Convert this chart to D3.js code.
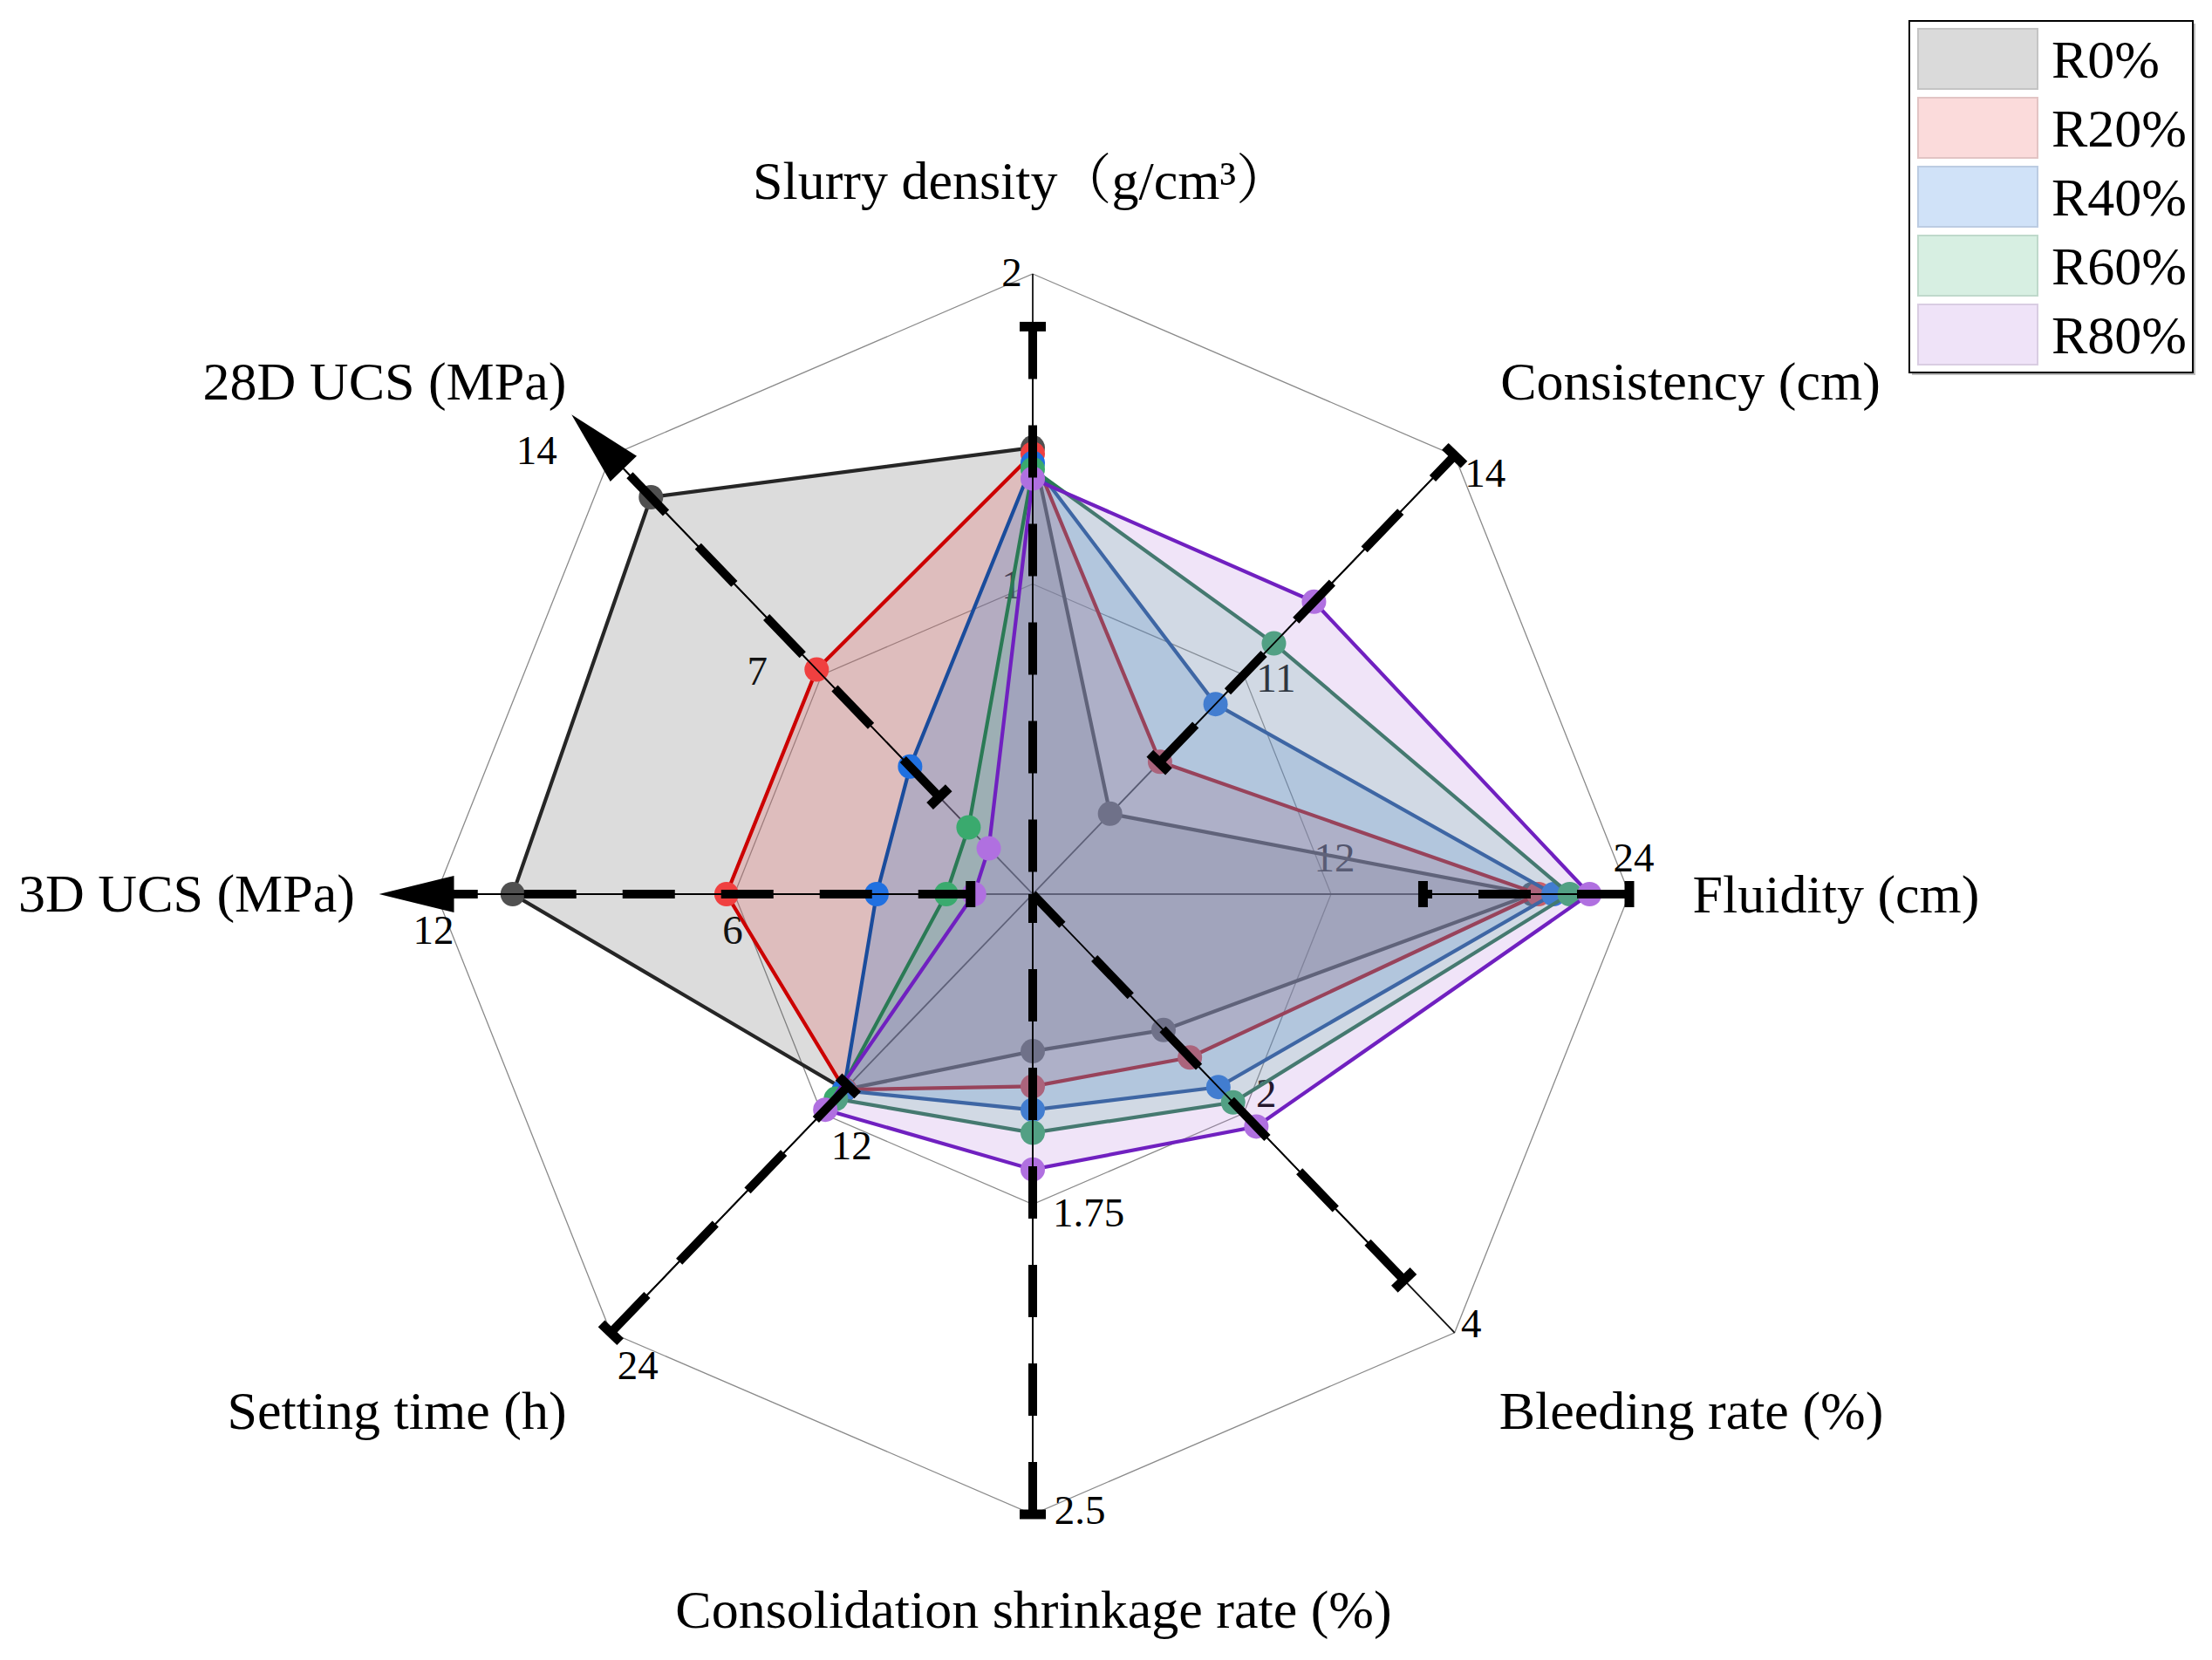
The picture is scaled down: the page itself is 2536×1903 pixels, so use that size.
<!DOCTYPE html>
<html><head><meta charset="utf-8">
<script src="https://cdn.jsdelivr.net/npm/d3@7/dist/d3.min.js"></script>
<style>body{margin:0;background:#fff;} svg{display:block;}</style>
</head><body>
<svg id="chart" width="2536" height="1903"></svg>
<script>
// ---------------- data ----------------
const categories = ["Slurry density（g/cm³）", "Consistency (cm)", "Fluidity (cm)", "Bleeding rate (%)",
  "Consolidation shrinkage rate (%)", "Setting time (h)", "3D UCS (MPa)", "28D UCS (MPa)"];
const axisMin = [0, 8, 0, 0, 1, 0, 0, 0];
const axisMax = [2, 14, 24, 4, 2.5, 24, 12, 14];
const midTicks = [1, 11, 12, 2, 1.75, 12, 6, 7];
const midTickLabels = ["1", "11", "12", "2", "1.75", "12", "6", "7"];
const maxTickLabels = ["2", "14", "24", "4", "2.5", "24", "12", "14"];
const seriesNames = ["R0%", "R20%", "R40%", "R60%", "R80%"];
const valuesR0  = [1.44, 9.10, 20.10, 1.24, 1.380, 10.70, 10.46, 12.67];
const valuesR20 = [1.42, 9.81, 20.35, 1.49, 1.465, 10.70, 6.16, 7.17];
const valuesR40 = [1.39, 10.60, 20.95, 1.76, 1.522, 10.75, 3.14, 4.07];
const valuesR60 = [1.37, 11.43, 21.60, 1.90, 1.577, 11.20, 1.74, 2.13];
const valuesR80 = [1.34, 12.00, 22.40, 2.12, 1.666, 11.80, 1.18, 1.46];
// black dashed range segments drawn on each axis
const rangeStart = [0, 9.8, 15.7, 0, 1, 10.5, 1.25, 3.1];
const rangeEnd   = [1.83, 14, 24, 3.52, 2.5, 24, 12, 14];

// ---------------- style ----------------
const seriesValues = [valuesR0, valuesR20, valuesR40, valuesR60, valuesR80];
const lineColors   = ["#262626", "#cc0000", "#1a4c9c", "#2a7a55", "#7020c0"];
const markerColors = ["#505050", "#f04040", "#2070e0", "#3aaa6e", "#b070e0"];
const fillColors   = ["rgb(90,90,90)", "rgb(230,120,120)", "rgb(14,107,208)", "rgb(67,192,130)", "rgb(180,120,220)"];
const fillOpacity  = [0.212, 0.3, 0.2, 0.2, 0.2];
const legendFill   = ["#dadada", "#fbdbdb", "#d0e2f8", "#d7efe2", "#efe3f8"];
const legendStroke = ["#c4c4c4", "#e2c4c4", "#bccce2", "#bfd9cb", "#d9cde2"];
const dashFromOuter = [true, false, true, true, true, true, false, false];
const startCap = ["none", "T", "T", "none", "none", "T", "T", "T"];
const endCap   = ["T", "T", "T", "T", "T", "T", "arrow", "arrow"];
const midOffsets   = [[-24, 0], [37, 3], [4, -42], [26, -23], [64, 9], [34, 37], [-2, 41], [-74, -5]];
const outerOffsets = [[-24, -2], [35, 20], [5, -42], [19, -11], [54, -5], [31, 37], [-3, 41], [-85, -6]];
const titlePos = [[1171, 207], [1938, 437], [2105, 1025], [1939, 1617], [1185, 1845], [455, 1617], [214, 1024], [441, 437]];

const cx = 1184, cy = 1025, rx = 684, ry = 711;
const serif = "'Liberation Serif', 'Times New Roman', 'Noto Serif CJK SC', 'Noto Sans CJK SC', serif";

const svg = d3.select("#chart");
const n = categories.length;
const angle = i => -Math.PI / 2 + i * 2 * Math.PI / n;
const scales = categories.map((c, i) => d3.scaleLinear().domain([axisMin[i], axisMax[i]]).range([0, 1]));
const ptF = (i, f) => [cx + rx * Math.cos(angle(i)) * f, cy + ry * Math.sin(angle(i)) * f];
const pt = (i, v) => ptF(i, scales[i](v));
const closed = d3.line().curve(d3.curveLinearClosed);

// unit direction on screen for axis i
function dir(i) {
  const p = ptF(i, 1);
  const dx = p[0] - cx, dy = p[1] - cy, L = Math.hypot(dx, dy);
  return [dx / L, dy / L];
}

// ---------------- grid ----------------
const grid = svg.append("g");
[0.5, 1].forEach(f => {
  grid.append("path").attr("d", closed(d3.range(n).map(i => ptF(i, f))))
    .attr("fill", "none").attr("stroke", "#8a8a8a").attr("stroke-width", 1.3);
});
d3.range(n).forEach(i => {
  const f = endCap[i] === "arrow" ? 0.97 : 1;
  const p = ptF(i, f);
  grid.append("line").attr("x1", cx).attr("y1", cy).attr("x2", p[0]).attr("y2", p[1])
    .attr("stroke", "#111").attr("stroke-width", 1.8);
});

// tick labels
const ticks = svg.append("g").attr("font-family", serif).attr("font-size", 47).attr("fill", "#000")
  .attr("text-anchor", "middle").attr("dominant-baseline", "central");
d3.range(n).forEach(i => {
  const pm = pt(i, midTicks[i]);
  ticks.append("text").attr("x", pm[0] + midOffsets[i][0]).attr("y", pm[1] + midOffsets[i][1]).text(midTickLabels[i]);
  const po = pt(i, axisMax[i]);
  ticks.append("text").attr("x", po[0] + outerOffsets[i][0]).attr("y", po[1] + outerOffsets[i][1]).text(maxTickLabels[i]);
});

// ---------------- series ----------------
seriesValues.forEach((vals, s) => {
  const g = svg.append("g");
  const pts = vals.map((v, i) => pt(i, v));
  g.append("path").attr("d", closed(pts)).attr("fill", fillColors[s]).attr("fill-opacity", fillOpacity[s]).attr("stroke", "none");
  g.append("path").attr("d", closed(pts)).attr("fill", "none").attr("stroke", lineColors[s])
    .attr("stroke-width", 4.2).attr("stroke-linejoin", "miter");
  g.selectAll("circle").data(pts).join("circle")
    .attr("cx", d => d[0]).attr("cy", d => d[1]).attr("r", 14).attr("fill", markerColors[s]);
});

// ---------------- axis range decorations ----------------
const deco = svg.append("g");
d3.range(n).forEach(i => {
  const pa = pt(i, rangeStart[i]), pb = pt(i, rangeEnd[i]);
  const [u0, u1] = dir(i);
  const nx = -u1, ny = u0;
  deco.append("line").attr("x1", pa[0]).attr("y1", pa[1]).attr("x2", pb[0]).attr("y2", pb[1])
    .attr("stroke", "#000").attr("stroke-width", 1.8);
  const from = dashFromOuter[i] ? pb : pa, to = dashFromOuter[i] ? pa : pb;
  deco.append("line").attr("x1", from[0]).attr("y1", from[1]).attr("x2", to[0]).attr("y2", to[1])
    .attr("stroke", "#000").attr("stroke-width", 10).attr("stroke-dasharray", "60,53").attr("stroke-linecap", "butt");
  [[pa, startCap[i]], [pb, endCap[i]]].forEach(([p, cap]) => {
    if (cap === "T") {
      deco.append("line").attr("x1", p[0] - nx * 15).attr("y1", p[1] - ny * 15)
        .attr("x2", p[0] + nx * 15).attr("y2", p[1] + ny * 15)
        .attr("stroke", "#000").attr("stroke-width", 11);
    } else if (cap === "arrow") {
      const b = ptF(i, 0.97);
      const tip = [b[0] + u0 * 86, b[1] + u1 * 86];
      deco.append("path").attr("d", closed([tip, [b[0] + nx * 21, b[1] + ny * 21], [b[0] - nx * 21, b[1] - ny * 21]]))
        .attr("fill", "#000");
    }
  });
});

// ---------------- axis titles ----------------
const titles = svg.append("g").attr("font-family", serif).attr("font-size", 62).attr("fill", "#000")
  .attr("text-anchor", "middle").attr("dominant-baseline", "central");
categories.forEach((c, i) => {
  titles.append("text").attr("x", titlePos[i][0]).attr("y", titlePos[i][1]).text(c);
});

// ---------------- legend ----------------
const lg = svg.append("g");
lg.append("rect").attr("x", 2192).attr("y", 27).attr("width", 325).attr("height", 403).attr("fill", "#bbb");
lg.append("rect").attr("x", 2189).attr("y", 24).attr("width", 325).attr("height", 403)
  .attr("fill", "#fff").attr("stroke", "#000").attr("stroke-width", 2);
seriesNames.forEach((name, s) => {
  const y = 33 + s * 79;
  lg.append("rect").attr("x", 2199).attr("y", y).attr("width", 137).attr("height", 69)
    .attr("fill", legendFill[s]).attr("stroke", legendStroke[s]).attr("stroke-width", 2);
  lg.append("text").attr("x", 2352).attr("y", y + 34.5 + 21).attr("font-family", serif)
    .attr("font-size", 62).attr("fill", "#000").text(name);
});
</script>
</body></html>
